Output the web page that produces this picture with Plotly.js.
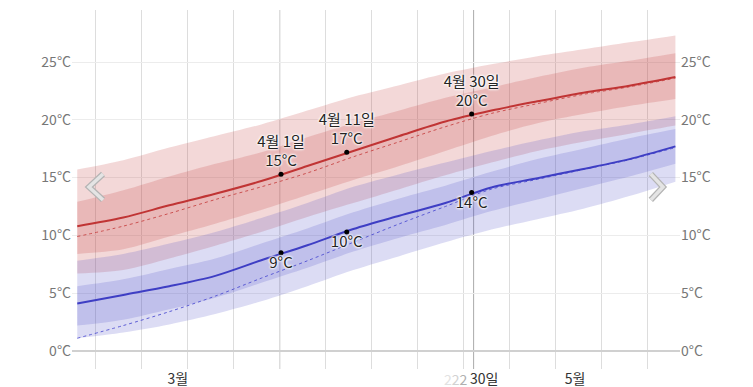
<!DOCTYPE html>
<html>
<head>
<meta charset="utf-8">
<script src="https://cdn.plot.ly/plotly-3.0.1.min.js"></script>
<style>html,body{margin:0;padding:0;background:#fff;}#chart{width:753px;height:387px;}</style>
</head>
<body>
<div id="chart"></div>
<script>
// Days counted from 1 March (0 = 3월 1일, 31 = 4월 1일, 60 = 4월 30일, 91 = 5월 31일)
const days = [0, 7, 14, 21, 28, 35, 42, 49, 56, 63, 70, 77, 84, 91];

// Daily high temperature (°C)
const highAvg    = [10.8, 11.55, 12.6, 13.6, 14.7, 16.0, 17.3, 18.6, 19.85, 20.8, 21.6, 22.35, 22.95, 23.7];
const highDotted = [9.9, 10.8, 11.9, 13.1, 14.2, 15.4, 16.8, 18.1, 19.4, 20.55, 21.4, 22.2, 22.85, 23.6];
const highP90    = [15.7, 16.5, 17.6, 18.6, 19.6, 20.8, 22.0, 23.0, 24.0, 24.8, 25.5, 26.1, 26.7, 27.3];
const highP75    = [12.9, 13.9, 15.1, 16.2, 17.2, 18.5, 19.7, 20.8, 21.9, 22.8, 23.7, 24.5, 25.1, 25.75];
const highP25    = [8.4, 8.8, 9.9, 11.0, 12.2, 13.5, 14.8, 16.0, 17.3, 18.6, 19.7, 20.5, 21.2, 21.8];
const highP10    = [6.7, 7.0, 8.0, 9.1, 10.3, 11.6, 12.8, 14.0, 15.2, 16.3, 17.3, 18.1, 18.8, 19.5];

// Daily low temperature (°C)
const lowAvg     = [4.1, 4.85, 5.6, 6.5, 7.85, 9.15, 10.55, 11.7, 12.8, 14.15, 14.95, 15.75, 16.6, 17.7];
const lowDotted  = [1.1, 2.2, 3.4, 4.75, 6.3, 7.8, 9.4, 11.0, 12.5, 14.0, 14.85, 15.7, 16.55, 17.6];
const lowP90     = [7.8, 8.4, 9.3, 10.3, 11.5, 12.8, 14.2, 15.3, 16.3, 17.3, 18.2, 19.0, 19.6, 20.3];
const lowP75     = [5.6, 6.2, 7.1, 8.0, 9.3, 10.6, 12.0, 13.2, 14.3, 15.5, 16.6, 17.5, 18.4, 19.2];
const lowP25     = [2.2, 2.7, 3.6, 4.6, 5.9, 7.2, 8.6, 9.8, 10.9, 12.1, 13.1, 14.1, 15.1, 16.2];
const lowP10     = [1.1, 1.6, 2.3, 3.2, 4.3, 5.6, 7.0, 8.2, 9.4, 10.5, 11.4, 12.3, 13.4, 14.65];

// Highlighted dates
const markDays   = [31, 41, 60];
const markHigh   = [15.3, 17.2, 20.5];
const markLow    = [8.5, 10.3, 13.7];
const markHighText = ["4월 1일<br>15°C", "4월 11일<br>17°C", "4월 30일<br>20°C"];
const markLowText  = ["9°C", "10°C", "14°C"];
const markLineDays = [30.8, 60.3];

// X tick labels
const xTickDays   = [15.3, 61.9, 75.75];
const xTickLabels = ["3월", "30일", "5월"];
const ghostLabel  = ["2", "2", "2"];

const FONT = "'Noto Sans CJK KR', 'Noto Sans', sans-serif";
const redFill = "rgba(196,60,60,0.2)";
const blueFill = "rgba(80,80,200,0.2)";
const redLine = "rgb(192,52,52)";
const blueLine = "rgb(62,62,196)";
const halo = "0 0 2px #fff, 0 0 2px #fff, 0 0 3px #fff, 0 0 3px #fff";
const SM = 0.9;

function band(lo, hi, color) {
  return [
    {x: days, y: lo, mode: "lines", line: {width: 0, shape: "spline", smoothing: SM}, hoverinfo: "skip", type: "scatter"},
    {x: days, y: hi, mode: "lines", line: {width: 0, shape: "spline", smoothing: SM}, fill: "tonexty", fillcolor: color, hoverinfo: "skip", type: "scatter"}
  ];
}

const traces = [].concat(
  band(highP10, highP90, redFill),
  band(highP25, highP75, redFill),
  band(lowP10, lowP90, blueFill),
  band(lowP25, lowP75, blueFill),
  [
    {x: days, y: highDotted, mode: "lines", line: {color: "rgba(200,70,70,0.9)", width: 1, dash: "dot", shape: "spline", smoothing: SM}, type: "scatter"},
    {x: days, y: lowDotted, mode: "lines", line: {color: "rgba(80,80,210,0.9)", width: 1, dash: "dot", shape: "spline", smoothing: SM}, type: "scatter"},
    {x: days, y: highAvg, mode: "lines", line: {color: redLine, width: 2, shape: "spline", smoothing: SM}, type: "scatter"},
    {x: days, y: lowAvg, mode: "lines", line: {color: blueLine, width: 2, shape: "spline", smoothing: SM}, type: "scatter"},
    {x: markDays, y: markHigh, mode: "markers+text", text: markHighText, textposition: "top center",
     marker: {color: "#000", size: 5}, textfont: {family: FONT, size: 15, color: "#222", shadow: halo}, type: "scatter"},
    {x: markDays, y: markLow, mode: "markers+text", text: markLowText, textposition: "bottom center",
     marker: {color: "#000", size: 5}, textfont: {family: FONT, size: 15, color: "#222", shadow: halo}, type: "scatter"},
    {x: days, y: lowAvg, yaxis: "y2", mode: "lines", line: {width: 0}, opacity: 0, hoverinfo: "skip", type: "scatter"}
  ]
);

function chevron(pts) {
  const d = "M " + pts.map(p => p.join(" ")).join(" L ");
  return [
    {type: "path", xref: "paper", yref: "paper", path: d, line: {color: "#b4b4b4", width: 6}, layer: "above"},
    {type: "path", xref: "paper", yref: "paper", path: d, line: {color: "#e4e4e4", width: 3.5}, layer: "above"}
  ];
}

const shapes = markLineDays.map(d => ({
  type: "line", xref: "x", yref: "paper", x0: d, x1: d, y0: 0, y1: 1,
  line: {color: "#aaaaaa", width: 1}, layer: "below"
})).concat(
  chevron([[0.051, 0.543], [0.028, 0.507], [0.051, 0.471]]),
  chevron([[0.952, 0.543], [0.972, 0.507], [0.952, 0.471]])
);

const ghostColors = ["#e2e2e2", "#d2d2d2", "#b0b0b0"];
const ghostText = ghostLabel.map((c, i) => '<span style="color:' + ghostColors[i] + '">' + c + '</span>').join("");

const yCommon = {
  range: [-1.56, 29.5], tick0: 0, dtick: 5, ticksuffix: "°C",
  tickfont: {family: FONT, size: 14, color: "#777"}, ticks: "", fixedrange: true
};

const layout = {
  width: 753, height: 387,
  margin: {l: 72, r: 73, t: 10, b: 18, pad: 0},
  paper_bgcolor: "#fff", plot_bgcolor: "#fff",
  showlegend: false,
  font: {family: FONT},
  xaxis: {
    range: [-0.8, 91.7], tickmode: "array", tickvals: xTickDays, ticktext: xTickLabels,
    showgrid: false, zeroline: false, ticks: "", showline: false,
    tickfont: {family: FONT, size: 14, color: "#333"},
    minor: {tickmode: "linear", tick0: 2.7, dtick: 7, showgrid: true, gridcolor: "#dddddd", gridwidth: 1, ticks: ""}
  },
  yaxis: Object.assign({}, yCommon, {
    showgrid: true, gridcolor: "#ececec", gridwidth: 1,
    zeroline: true, zerolinecolor: "#d0d0d0", zerolinewidth: 2, side: "left"
  }),
  yaxis2: Object.assign({}, yCommon, {
    overlaying: "y", side: "right", showgrid: false, zeroline: false
  }),
  shapes: shapes,
  annotations: [{
    xref: "x", yref: "paper", x: 59.8, y: 0, yshift: -10, xanchor: "right", yanchor: "middle",
    text: ghostText, showarrow: false, font: {family: FONT, size: 14}
  }]
};

Plotly.newPlot("chart", traces, layout, {displayModeBar: false, staticPlot: true});
</script>
</body>
</html>
